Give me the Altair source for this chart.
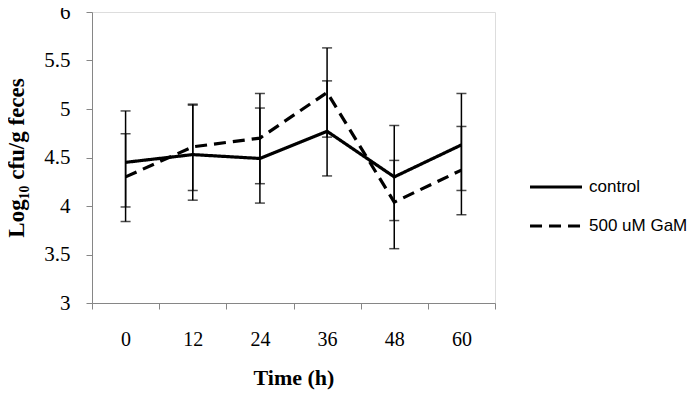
import altair as alt
import pandas as pd

times = ["0", "12", "24", "36", "48", "60"]
series = ["control", "500 uM GaM"]

control_mean = [4.45, 4.53, 4.49, 4.77, 4.30, 4.63]
control_hi = [4.98, 5.05, 5.01, 5.29, 4.83, 5.16]
control_lo = [3.99, 4.06, 4.03, 4.31, 3.85, 4.16]

gam_mean = [4.30, 4.61, 4.70, 5.17, 4.04, 4.37]
gam_hi = [4.745, 5.04, 5.16, 5.63, 4.47, 4.82]
gam_lo = [3.84, 4.16, 4.23, 4.71, 3.56, 3.91]

rows = []
for name, m, hi, lo in [(series[0], control_mean, control_hi, control_lo),
                        (series[1], gam_mean, gam_hi, gam_lo)]:
    for t, a, b, c in zip(times, m, hi, lo):
        rows.append({"time": t, "series": name, "mean": a, "hi": b, "lo": c})
df = pd.DataFrame(rows)

AX = "#868686"
SERIF = "Liberation Serif"

x_enc = alt.X(
    "time:O", sort=times,
    scale=alt.Scale(type="band", paddingInner=0, paddingOuter=0),
    axis=alt.Axis(title="Time (h)", tickBand="extent", labelAngle=0,
                  domainColor=AX, tickColor=AX, tickSize=6,
                  labelFont=SERIF, labelFontSize=20, labelColor="black",
                  labelPadding=20, titleFont=SERIF, titleFontSize=22,
                  titleFontWeight="bold", titleColor="black", titlePadding=18),
)
y_scale = alt.Scale(domain=[3, 6], nice=False, zero=False)
y_axis = alt.Axis(title="Log₁₀ cfu/g feces", values=[3, 3.5, 4, 4.5, 5, 5.5, 6],
                  format="~g", grid=False, domainColor=AX, tickColor=AX, tickSize=6,
                  labelFont=SERIF, labelFontSize=21, labelColor="black",
                  labelPadding=16, titleFont=SERIF, titleFontSize=23,
                  titleFontWeight="bold", titleColor="black", titlePadding=15)

base = alt.Chart(df)

rules = base.mark_rule(color="black", strokeWidth=1.5).encode(
    x=x_enc, y=alt.Y("lo:Q", scale=y_scale, axis=y_axis), y2="hi:Q")
cap_hi = base.mark_tick(color="black", thickness=1.5, size=10).encode(
    x=x_enc, y=alt.Y("hi:Q", scale=y_scale, axis=y_axis))
cap_lo = base.mark_tick(color="black", thickness=1.5, size=10).encode(
    x=x_enc, y=alt.Y("lo:Q", scale=y_scale, axis=y_axis))

lines = base.mark_line(color="black", strokeWidth=3.2).encode(
    x=x_enc,
    y=alt.Y("mean:Q", scale=y_scale, axis=y_axis),
    strokeDash=alt.StrokeDash(
        "series:N",
        scale=alt.Scale(domain=series, range=[[1, 0], [12, 7]]),
        legend=alt.Legend(title=None, orient="none", legendX=436, legendY=147,
                          symbolType="stroke", symbolSize=2700,
                          symbolStrokeWidth=3.2, symbolStrokeColor="black",
                          labelFont="Liberation Sans", labelFontSize=17,
                          labelColor="black", rowPadding=3, labelOffset=5),
    ),
)

chart = alt.layer(rules, cap_hi, cap_lo, lines).properties(
    width=403, height=291, autosize="none",
    padding={"left": 84, "top": 4, "right": 197, "bottom": 94},
).configure_view(stroke=None).configure(background="white")

chart.save("out.html", embed_options={"renderer": "svg", "actions": False})
